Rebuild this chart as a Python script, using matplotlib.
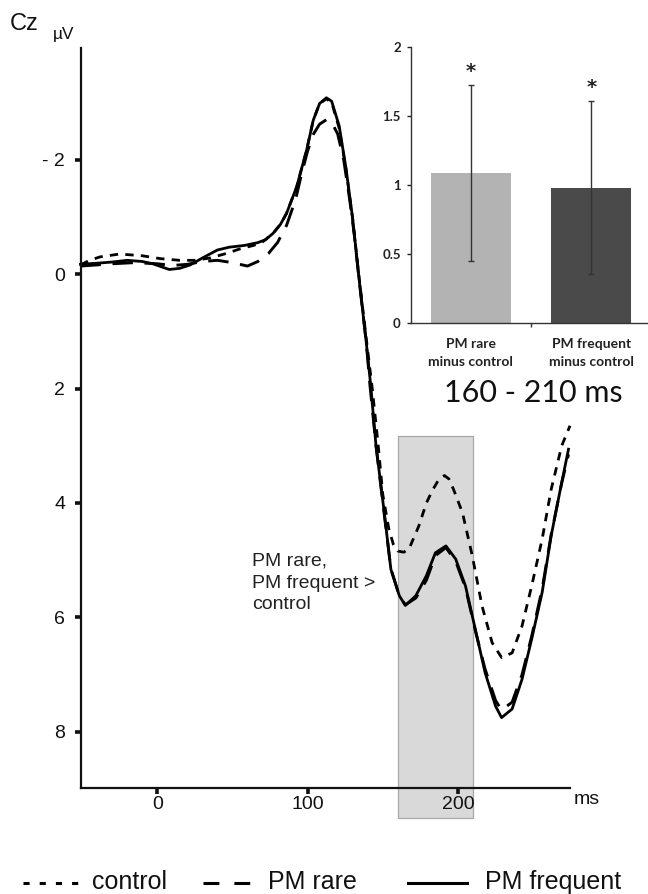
import matplotlib
matplotlib.use("Agg")
import matplotlib.pyplot as plt
from matplotlib.patches import Rectangle
from matplotlib.lines import Line2D

# ---------------- data ----------------
t_freq = [-51, -40, -30, -20, -10, -3, 8, 15, 22, 30, 40, 48, 58, 67, 72, 77, 82, 86, 92.7, 99.4,
          103.8, 108, 112.5, 116, 121, 125.6, 130, 134, 139, 142, 145.5, 151, 155.4, 161, 165,
          172, 179, 185, 192, 198.5, 205, 212, 218, 225, 229, 236, 242.6, 249, 256, 262, 269, 273.5]
v_freq = [-0.17, -0.19, -0.21, -0.24, -0.22, -0.18, -0.08, -0.1, -0.16, -0.28, -0.42, -0.47, -0.5,
          -0.55, -0.6, -0.71, -0.87, -1.06, -1.52, -2.17, -2.69, -2.98, -3.08, -3.02, -2.59, -1.84,
          -0.96, 0.03, 1.19, 1.95, 3.0, 4.17, 5.16, 5.62, 5.79, 5.62, 5.27, 4.87, 4.75, 4.98, 5.45,
          6.26, 6.96, 7.55, 7.75, 7.6, 7.08, 6.38, 5.56, 4.57, 3.64, 3.06]

t_ctrl = [-51, -45, -38, -25, -10, 2, 15, 25, 35, 46, 55, 64, 70, 77, 82, 86, 92.7, 99.4, 103.8,
          108, 112.5, 116, 121, 125.6, 130, 134, 139, 143, 147, 150, 154, 157, 160, 164, 167.5,
          174, 179, 183, 187, 191, 194, 197, 203, 209.5, 216, 222.7, 229, 236, 242.6, 249, 256,
          262, 269, 274.5]
v_ctrl = [-0.16, -0.24, -0.3, -0.35, -0.32, -0.27, -0.24, -0.24, -0.28, -0.36, -0.44, -0.5, -0.56,
          -0.71, -0.87, -1.06, -1.52, -2.17, -2.69, -2.98, -3.06, -3.0, -2.55, -1.82, -0.96, 0.0,
          1.12, 2.0, 3.0, 3.85, 4.45, 4.72, 4.84, 4.86, 4.8, 4.4, 4.0, 3.78, 3.6, 3.52, 3.58, 3.76,
          4.17, 4.92, 5.8, 6.44, 6.7, 6.62, 6.15, 5.45, 4.63, 3.76, 3.0, 2.65]

t_rare = [-51, -40, -30, -15, 0, 10, 20, 30, 40, 50, 60, 67, 74, 80, 86, 92, 96, 100, 104, 108,
          112.7, 116, 120, 124, 128, 131, 134, 139, 141.5, 145.5, 151, 155.4, 161, 165, 172, 179,
          185, 192, 198.5, 205, 212, 218, 225, 229, 236, 242.6, 249, 256, 262, 269, 273.5]
v_rare = [-0.14, -0.16, -0.18, -0.2, -0.18, -0.15, -0.17, -0.22, -0.24, -0.2, -0.14, -0.22, -0.36,
          -0.55, -0.85, -1.3, -1.75, -2.15, -2.45, -2.62, -2.7, -2.65, -2.45, -2.0, -1.3, -0.7,
          0.03, 1.19, 1.95, 3.0, 4.2, 5.15, 5.62, 5.78, 5.66, 5.35, 4.92, 4.78, 5.02, 5.48, 6.28,
          6.9, 7.45, 7.62, 7.48, 7.0, 6.33, 5.5, 4.55, 3.65, 3.15]

window_ms = [160, 210]
window_top = 2.83

y_ticks = [-2, 0, 2, 4, 6, 8]
y_ticklabels = ["- 2", "0", "2", "4", "6", "8"]
x_ticks = [0, 100, 200]

bar_labels = ["PM rare\nminus control", "PM frequent\nminus control"]
bar_values = [1.085, 0.98]
bar_errors = [0.64, 0.625]
inset_yticks = [0, 0.5, 1, 1.5, 2]
inset_yticklabels = ["0", "0.5", "1", "1.5", "2"]

legend_labels = ["control", "PM rare", "PM frequent"]

# ---------------- figure ----------------
W, H = 648, 894
fig = plt.figure(figsize=(W / 100, H / 100), dpi=100)
FONT = ["Liberation Sans", "DejaVu Sans"]
plt.rcParams["font.family"] = FONT

def fx(px):
    return px / W

def fy(py):
    return 1 - py / H

ax = fig.add_axes([fx(80.5), fy(788), (570 - 80.5) / W, (788 - 48) / H])
ax.set_xlim(-51, 274.5)
ax.set_ylim(8.98, -3.95)
for s in ("top", "right"):
    ax.spines[s].set_visible(False)
for s in ("left", "bottom"):
    ax.spines[s].set_linewidth(1.6)
    ax.spines[s].set_color("#111111")
    ax.spines[s].set_zorder(3)

ax.set_yticks(y_ticks)
ax.set_yticklabels(y_ticklabels)
ax.set_xticks(x_ticks)
ax.tick_params(axis="y", direction="out", length=4, width=2.6, pad=7, labelsize=14,
               colors="#111111")
ax.tick_params(axis="x", direction="out", length=4, width=2.6, pad=2, labelsize=14,
               colors="#111111")

rect = Rectangle((window_ms[0], window_top), window_ms[1] - window_ms[0], 9.5 - window_top,
                 facecolor="#d9d9d9", edgecolor="#a8a8a8", linewidth=0.9, clip_on=False,
                 zorder=0.5)
ax.add_patch(rect)

ax.plot(t_ctrl, v_ctrl, color="black", linewidth=2.0, linestyle=(0, (3, 2.6)), zorder=2,
        clip_on=False)
ax.plot(t_rare, v_rare, color="black", linewidth=2.1, linestyle=(0, (7, 4)), zorder=2.1,
        clip_on=False)
ax.plot(t_freq, v_freq, color="black", linewidth=2.0, linestyle="-", zorder=2.2,
        clip_on=False)

fig.text(fx(10), fy(24), "Cz", fontsize=17, ha="left", va="center", color="#111111")
fig.text(fx(53), fy(35), "µV", fontsize=12.5, ha="left", va="center", color="#111111")
fig.text(fx(574), fy(799), "ms", fontsize=14, ha="left", va="center", color="#111111")

fig.text(fx(252), fy(583), "PM rare,\nPM frequent >\ncontrol", fontsize=14, ha="left",
         va="center", linespacing=1.38, color="#222222")

# ---------------- inset bar chart ----------------
INSET_FONT = ["Lato", "DejaVu Sans"]
ax2 = fig.add_axes([fx(410.5), fy(322.5), 241 / W, (322.5 - 47) / H])
ax2.set_facecolor("none")
ax2.bar([0, 1], bar_values, width=0.66, color=["#b3b3b3", "#4a4a4a"],
        yerr=bar_errors, capsize=2.3,
        error_kw=dict(ecolor="#333333", elinewidth=1.0, capthick=1.0))
ax2.set_xlim(-0.5, 1.5)
ax2.set_ylim(0, 2)
for s in ("top", "right"):
    ax2.spines[s].set_visible(False)
for s in ("left", "bottom"):
    ax2.spines[s].set_linewidth(1.0)
    ax2.spines[s].set_color("#333333")
ax2.set_yticks(inset_yticks)
ax2.set_yticklabels(inset_yticklabels, fontfamily=INSET_FONT, fontweight="bold", fontsize=9.5)
ax2.tick_params(axis="y", direction="out", length=3, width=1, pad=4, colors="#222222")
ax2.set_xticks([0, 1])
ax2.set_xticklabels(bar_labels, fontfamily=INSET_FONT, fontweight="bold", fontsize=10,
                    linespacing=1.6)
ax2.set_xticks([0.5], minor=True)
ax2.tick_params(axis="x", which="major", length=0, pad=11, colors="#222222")
ax2.tick_params(axis="x", which="minor", direction="out", length=3, width=1, colors="#333333")

for i, (v, e) in enumerate(zip(bar_values, bar_errors)):
    ax2.text(i, v + e + 0.1, "*", ha="center", va="center", fontsize=14,
             fontweight="bold", color="#222222", fontfamily="DejaVu Sans")

fig.text(fx(533), fy(393), "160 - 210 ms", fontsize=22, ha="center", va="center",
         fontfamily=INSET_FONT, color="#111111")

# ---------------- legend ----------------
ly = fy(883)
fig.add_artist(Line2D([fx(23), fx(78)], [ly, ly], transform=fig.transFigure, color="black",
                      linewidth=2.2, linestyle=(0, (2, 3.3))))
fig.add_artist(Line2D([fx(203), fx(250)], [ly, ly], transform=fig.transFigure, color="black",
                      linewidth=2.2, linestyle=(0, (5.2, 4.9))))
fig.add_artist(Line2D([fx(408), fx(467)], [ly, ly], transform=fig.transFigure, color="black",
                      linewidth=2.2, linestyle="-"))
for x0, lab in zip([92, 268, 485], legend_labels):
    fig.text(fx(x0), fy(882), lab, fontsize=18, ha="left", va="center", color="#111111")

fig.savefig("out.png", dpi=100)
